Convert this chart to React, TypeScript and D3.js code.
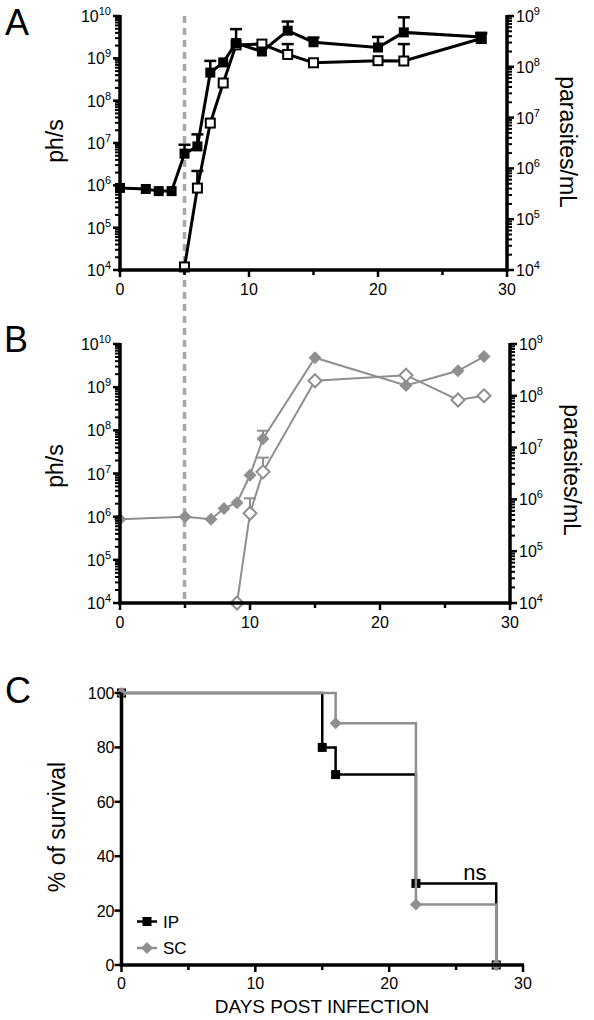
import React from 'react';
import * as d3 from 'd3';

const FONT = '"Liberation Sans", Arial, Helvetica, sans-serif';
const BLACK = '#000000';
const GRAY = '#8f8f8f';
const DASH_GRAY = '#a9a9a9';

// ---------- Panel A data ----------
const A_PHS_DAYS = [0, 2, 3, 4, 5, 6, 7, 8, 9, 11, 13, 15, 20, 22, 28];
const A_PHS = [8.7e5, 8.2e5, 7.3e5, 7.3e5, 5.6e6, 8.3e6, 4.6e8, 8.0e8, 2.3e9, 1.45e9, 4.5e9, 2.4e9, 1.8e9, 4.1e9, 3.2e9];
const A_PHS_ERR = [0, 0, 0, 0, 9.1e6, 1.6e7, 8.7e8, 0, 4.9e9, 0, 7.4e9, 3.1e9, 3.2e9, 9.3e9, 4.0e9];
const A_PAR_DAYS = [5, 6, 7, 8, 9, 11, 13, 15, 20, 22, 28];
const A_PAR = [1.15e4, 4.1e5, 7.8e6, 4.8e7, 2.7e8, 2.8e8, 1.75e8, 1.2e8, 1.32e8, 1.3e8, 3.6e8];
const A_PAR_ERR = [0, 8.9e5, 0, 0, 0, 0, 2.8e8, 0, 0, 2.8e8, 4.5e8];

// ---------- Panel B data ----------
const B_PHS_DAYS = [0, 5, 7, 8, 9, 10, 11, 15, 22, 26, 28];
const B_PHS = [8.7e5, 1.0e6, 8.7e5, 1.55e6, 2.1e6, 9.1e6, 6.4e7, 4.8e9, 1.1e9, 2.4e9, 5.1e9];
const B_PHS_ERR = [0, 0, 0, 0, 0, 0, 9.8e7, 0, 0, 0, 0];
const B_PAR_DAYS = [9, 10, 11, 15, 22, 26, 28];
const B_PAR = [1.0e4, 5.4e5, 3.4e6, 1.95e8, 2.5e8, 8.3e7, 1.0e8];
const B_PAR_ERR = [0, 1.05e6, 6.4e6, 0, 0, 0, 0];

// ---------- Panel C data ----------
const IP_DAYS = [0, 15, 16, 22, 28];
const IP_SURV = [100, 80, 70, 30, 0];
const SC_DAYS = [0, 16, 22, 28];
const SC_SURV = [100, 88.9, 22.2, 0];

// ---------- Axis tick definitions ----------
const X_MAJOR = [0, 10, 20, 30];
const X_MINOR = [5, 15, 25];
const LEFT_EXPS = [4, 5, 6, 7, 8, 9, 10];
const RIGHT_EXPS = [4, 5, 6, 7, 8, 9];
const SURV_TICKS = [0, 20, 40, 60, 80, 100];
const MINOR_MULTS = [2, 3, 4, 5, 6, 7, 8, 9];

type LogScale = d3.ScaleLogarithmic<number, number>;
type LinScale = d3.ScaleLinear<number, number>;

const AXIS_W = 3.5;

function Pow10({ x, y, e, anchor }: { x: number; y: number; e: number; anchor: 'start' | 'end' }) {
  return (
    <text x={x} y={y} textAnchor={anchor} fontFamily={FONT} fontSize={16} fill={BLACK}>
      <tspan>10</tspan>
      <tspan dy={-7} fontSize={11}>{e}</tspan>
    </text>
  );
}

function LogAxis({ scale, x, exps, side }: { scale: LogScale; x: number; exps: number[]; side: 'left' | 'right' }) {
  const dir = side === 'left' ? -1 : 1;
  const [d0, d1] = scale.domain();
  const minors: number[] = [];
  exps.slice(0, -1).forEach((e) => MINOR_MULTS.forEach((m) => minors.push(m * Math.pow(10, e))));
  const r = scale.range();
  return (
    <g>
      <line x1={x} x2={x} y1={r[0] + AXIS_W / 2} y2={r[1] - 1} stroke={BLACK} strokeWidth={AXIS_W} />
      {minors.filter((v) => v > d0 && v < d1).map((v, i) => (
        <line key={'m' + i} x1={x} x2={x + dir * 5} y1={scale(v)} y2={scale(v)} stroke={BLACK} strokeWidth={2} />
      ))}
      {exps.map((e) => (
        <line key={'M' + e} x1={x} x2={x + dir * 7} y1={scale(Math.pow(10, e))} y2={scale(Math.pow(10, e))} stroke={BLACK} strokeWidth={2.5} />
      ))}
      {exps.map((e) => (
        <Pow10 key={'t' + e} x={x + dir * 9} y={scale(Math.pow(10, e)) + 6} e={e} anchor={side === 'left' ? 'end' : 'start'} />
      ))}
    </g>
  );
}

function XAxis({ scale, y, labelY }: { scale: LinScale; y: number; labelY: number }) {
  const r = scale.range();
  return (
    <g>
      <line x1={r[0] - AXIS_W / 2} x2={r[1] + 1} y1={y} y2={y} stroke={BLACK} strokeWidth={AXIS_W} />
      {X_MINOR.map((v) => (
        <line key={'m' + v} x1={scale(v)} x2={scale(v)} y1={y} y2={y + 5} stroke={BLACK} strokeWidth={2.5} />
      ))}
      {X_MAJOR.map((v) => (
        <line key={'M' + v} x1={scale(v)} x2={scale(v)} y1={y} y2={y + 7} stroke={BLACK} strokeWidth={2.5} />
      ))}
      {X_MAJOR.map((v) => (
        <text key={'t' + v} x={scale(v)} y={labelY} textAnchor="middle" fontFamily={FONT} fontSize={16} fill={BLACK}>
          {v}
        </text>
      ))}
    </g>
  );
}

function ErrBars({ xs, tops, vals, x, y, color, w }: { xs: number[]; tops: number[]; vals: number[]; x: LinScale; y: LogScale; color: string; w: number }) {
  return (
    <g>
      {xs.map((d, i) =>
        tops[i] > 0 ? (
          <g key={i}>
            <line x1={x(d)} x2={x(d)} y1={y(vals[i])} y2={y(tops[i])} stroke={color} strokeWidth={w} />
            <line x1={x(d) - 6} x2={x(d) + 6} y1={y(tops[i])} y2={y(tops[i])} stroke={color} strokeWidth={w} />
          </g>
        ) : null
      )}
    </g>
  );
}

function diamondPath(cx: number, cy: number, r: number) {
  const p = d3.path();
  p.moveTo(cx, cy - r);
  p.lineTo(cx + r, cy);
  p.lineTo(cx, cy + r);
  p.lineTo(cx - r, cy);
  p.closePath();
  return p.toString();
}

export default function App() {
  // Panel A scales
  const xA = d3.scaleLinear().domain([0, 30]).range([120, 507]);
  const yAL = d3.scaleLog().domain([1e4, 1e10]).range([270, 16]);
  const yAR = d3.scaleLog().domain([1e4, 1e9]).range([270, 16]);
  // Panel B scales
  const xB = d3.scaleLinear().domain([0, 30]).range([120, 510]);
  const yBL = d3.scaleLog().domain([1e4, 1e10]).range([603, 344]);
  const yBR = d3.scaleLog().domain([1e4, 1e9]).range([603, 344]);
  // Panel C scales
  const xC = d3.scaleLinear().domain([0, 30]).range([121.5, 523]);
  const yC = d3.scaleLinear().domain([0, 100]).range([965, 693]);

  const lineA_phs = d3.line<number>().x((_, i) => xA(A_PHS_DAYS[i])).y((v) => yAL(v))(A_PHS) || '';
  const lineA_par = d3.line<number>().x((_, i) => xA(A_PAR_DAYS[i])).y((v) => yAR(v))(A_PAR) || '';
  const lineB_phs = d3.line<number>().x((_, i) => xB(B_PHS_DAYS[i])).y((v) => yBL(v))(B_PHS) || '';
  const lineB_par = d3.line<number>().x((_, i) => xB(B_PAR_DAYS[i])).y((v) => yBR(v))(B_PAR) || '';
  const stepIP = d3.line<number>().curve(d3.curveStepAfter).x((_, i) => xC(IP_DAYS[i])).y((v) => yC(v))(IP_SURV) || '';
  const stepSC = d3.line<number>().curve(d3.curveStepAfter).x((_, i) => xC(SC_DAYS[i])).y((v) => yC(v))(SC_SURV) || '';

  const sq = 10;

  return (
    <svg width={594} height={1020} viewBox="0 0 594 1020" style={{ position: 'absolute', left: 0, top: 0, background: '#fff' }}>
      <rect x={0} y={0} width={594} height={1020} fill="#ffffff" />

      {/* dashed vertical line at day 5 */}
      <line x1={xA(5)} x2={xA(5)} y1={16} y2={601} stroke={DASH_GRAY} strokeWidth={3.5} strokeDasharray="7,5" />

      {/* ===== Panel A ===== */}
      <text x={5} y={35} fontFamily={FONT} fontSize={36} fill={BLACK}>A</text>
      <text transform={`translate(63,141) rotate(-90)`} textAnchor="middle" fontFamily={FONT} fontSize={23} fill={BLACK}>ph/s</text>
      <text transform={`translate(560,142) rotate(90)`} textAnchor="middle" fontFamily={FONT} fontSize={23} fill={BLACK}>parasites/mL</text>

      <path d={lineA_par} fill="none" stroke={BLACK} strokeWidth={3} />
      <ErrBars xs={A_PAR_DAYS} tops={A_PAR_ERR} vals={A_PAR} x={xA} y={yAR} color={BLACK} w={2.5} />
      {A_PAR.map((v, i) => (
        <rect key={'ap' + i} x={xA(A_PAR_DAYS[i]) - 4.5} y={yAR(v) - 4.5} width={9} height={9} fill="#fff" stroke={BLACK} strokeWidth={2} />
      ))}
      <path d={lineA_phs} fill="none" stroke={BLACK} strokeWidth={3} />
      <ErrBars xs={A_PHS_DAYS} tops={A_PHS_ERR} vals={A_PHS} x={xA} y={yAL} color={BLACK} w={2.5} />
      {A_PHS.map((v, i) => (
        <rect key={'af' + i} x={xA(A_PHS_DAYS[i]) - sq / 2} y={yAL(v) - sq / 2} width={sq} height={sq} fill={BLACK} />
      ))}

      <XAxis scale={xA} y={270} labelY={295} />
      <LogAxis scale={yAL} x={120} exps={LEFT_EXPS} side="left" />
      <LogAxis scale={yAR} x={507} exps={RIGHT_EXPS} side="right" />

      {/* ===== Panel B ===== */}
      <text x={4} y={352} fontFamily={FONT} fontSize={36} fill={BLACK}>B</text>
      <text transform={`translate(63,466) rotate(-90)`} textAnchor="middle" fontFamily={FONT} fontSize={23} fill={BLACK}>ph/s</text>
      <text transform={`translate(564,470) rotate(90)`} textAnchor="middle" fontFamily={FONT} fontSize={23} fill={BLACK}>parasites/mL</text>

      <path d={lineB_par} fill="none" stroke={GRAY} strokeWidth={2} />
      <ErrBars xs={B_PAR_DAYS} tops={B_PAR_ERR} vals={B_PAR} x={xB} y={yBR} color={GRAY} w={2} />
      <path d={lineB_phs} fill="none" stroke={GRAY} strokeWidth={2} />
      <ErrBars xs={B_PHS_DAYS} tops={B_PHS_ERR} vals={B_PHS} x={xB} y={yBL} color={GRAY} w={2} />
      {B_PHS.map((v, i) => (
        <path key={'bf' + i} d={diamondPath(xB(B_PHS_DAYS[i]), yBL(v), 6.5)} fill={GRAY} />
      ))}
      {B_PAR.map((v, i) => (
        <path key={'bp' + i} d={diamondPath(xB(B_PAR_DAYS[i]), yBR(v), 6.5)} fill="#fff" stroke={GRAY} strokeWidth={2} />
      ))}

      <XAxis scale={xB} y={603} labelY={628} />
      <LogAxis scale={yBL} x={120} exps={LEFT_EXPS} side="left" />
      <LogAxis scale={yBR} x={510} exps={RIGHT_EXPS} side="right" />

      {/* ===== Panel C ===== */}
      <text x={5} y={703} fontFamily={FONT} fontSize={36} fill={BLACK}>C</text>
      <text transform={`translate(65,827) rotate(-90)`} textAnchor="middle" fontFamily={FONT} fontSize={23} fill={BLACK}>% of survival</text>

      <path d={stepIP} fill="none" stroke={BLACK} strokeWidth={2.5} />
      {IP_SURV.map((v, i) => (
        <rect key={'ip' + i} x={xC(IP_DAYS[i]) - 4.5} y={yC(v) - 4.5} width={9} height={9} fill={BLACK} />
      ))}
      <path d={stepSC} fill="none" stroke={GRAY} strokeWidth={2.5} />
      {SC_SURV.map((v, i) => (
        <path key={'sc' + i} d={diamondPath(xC(SC_DAYS[i]), yC(v), 6)} fill={GRAY} />
      ))}
      <text x={xC(26.4)} y={880} textAnchor="middle" fontFamily={FONT} fontSize={22} fill={BLACK}>ns</text>

      {/* legend */}
      <line x1={137} x2={157} y1={921.5} y2={921.5} stroke={BLACK} strokeWidth={2.5} />
      <rect x={142.5} y={917} width={9} height={9} fill={BLACK} />
      <text x={163} y={927.5} fontFamily={FONT} fontSize={17} fill={BLACK}>IP</text>
      <line x1={137} x2={157} y1={948} y2={948} stroke={GRAY} strokeWidth={2.5} />
      <path d={diamondPath(147, 948, 6)} fill={GRAY} />
      <text x={163} y={954} fontFamily={FONT} fontSize={17} fill={BLACK}>SC</text>

      {/* axes */}
      <line x1={xC(0) - AXIS_W / 2} x2={xC(30) + 1} y1={965} y2={965} stroke={BLACK} strokeWidth={AXIS_W} />
      {X_MINOR.map((v) => (
        <line key={'cm' + v} x1={xC(v)} x2={xC(v)} y1={965} y2={970} stroke={BLACK} strokeWidth={2.5} />
      ))}
      {X_MAJOR.map((v) => (
        <line key={'cM' + v} x1={xC(v)} x2={xC(v)} y1={965} y2={972} stroke={BLACK} strokeWidth={2.5} />
      ))}
      {X_MAJOR.map((v) => (
        <text key={'ct' + v} x={xC(v)} y={989} textAnchor="middle" fontFamily={FONT} fontSize={16} fill={BLACK}>{v}</text>
      ))}
      <line x1={xC(0)} x2={xC(0)} y1={965} y2={693} stroke={BLACK} strokeWidth={AXIS_W} />
      {SURV_TICKS.map((v) => (
        <line key={'cy' + v} x1={xC(0)} x2={xC(0) - 7} y1={yC(v)} y2={yC(v)} stroke={BLACK} strokeWidth={2.5} />
      ))}
      {SURV_TICKS.map((v) => (
        <text key={'cyt' + v} x={xC(0) - 7} y={yC(v) + 6} textAnchor="end" fontFamily={FONT} fontSize={16} fill={BLACK}>{v}</text>
      ))}
      <text x={322} y={1013} textAnchor="middle" fontFamily={FONT} fontSize={19} fill={BLACK}>DAYS POST INFECTION</text>
    </svg>
  );
}
